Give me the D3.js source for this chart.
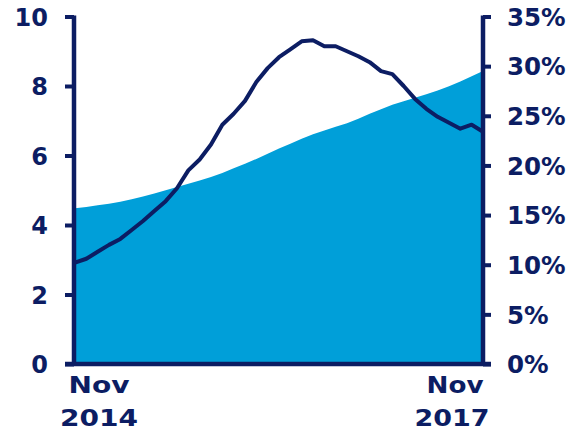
<!DOCTYPE html>
<html>
<head>
<meta charset="utf-8">
<script src="https://cdn.jsdelivr.net/npm/d3@7"></script>
<style>
  html, body { margin: 0; padding: 0; background: #fff; }
  svg text { font-family: "DejaVu Sans", Verdana, sans-serif; font-weight: bold; fill: #0c1d63; }
</style>
</head>
<body>
<svg id="chart" width="583" height="430"></svg>
<script>
// Monthly observations, Nov 2014 .. Nov 2017
const months = d3.range(37);
const xLabels = [["Nov", "2014"], ["Nov", "2017"]];

// Left axis series (area)
const areaValues = [4.48, 4.52, 4.57, 4.61, 4.67, 4.74, 4.82, 4.91, 5.00, 5.09,
  5.19, 5.28, 5.38, 5.50, 5.63, 5.76, 5.90, 6.05, 6.20, 6.34,
  6.48, 6.61, 6.72, 6.83, 6.93, 7.06, 7.20, 7.33, 7.46, 7.56,
  7.66, 7.76, 7.87, 7.99, 8.13, 8.28, 8.43];

// Right axis series (line, percent)
const lineValues = [10.2, 10.6, 11.3, 12.0, 12.6, 13.5, 14.4, 15.4, 16.4, 17.7,
  19.5, 20.6, 22.1, 24.1, 25.2, 26.5, 28.4, 29.8, 30.9, 31.7,
  32.5, 32.6, 32.0, 32.0, 31.5, 31.0, 30.4, 29.5, 29.2, 28.0,
  26.7, 25.7, 24.9, 24.3, 23.7, 24.1, 23.4];

const leftTicks = [0, 2, 4, 6, 8, 10];
const rightTicks = [0, 5, 10, 15, 20, 25, 30, 35];

const navy = "#0c1d63";
const blue = "#009fd9";

const svg = d3.select("#chart");
const x0 = 75, x1 = 483, yBottom = 364, yTop = 16.5;

const x = d3.scaleLinear().domain([0, months.length - 1]).range([x0, x1]);
const yL = d3.scaleLinear().domain([0, 10]).range([yBottom, yTop]);
const yR = d3.scaleLinear().domain([0, 35]).range([yBottom, yTop]);

// Area
svg.append("path")
  .datum(months)
  .attr("fill", blue)
  .attr("d", d3.area()
    .x(i => x(i))
    .y0(yL(0))
    .y1(i => yL(areaValues[i])));

// Line
svg.append("path")
  .datum(months)
  .attr("fill", "none")
  .attr("stroke", navy)
  .attr("stroke-width", 4)
  .attr("stroke-linejoin", "round")
  .attr("d", d3.line()
    .x(i => x(i))
    .y(i => yR(lineValues[i])));

// Left axis
const leftAxis = svg.append("g")
  .attr("transform", `translate(${x0 - 1},0)`)
  .call(d3.axisLeft(yL).tickValues(leftTicks).tickSize(9).tickPadding(17).tickFormat(d3.format("d")));
leftAxis.select(".domain").attr("stroke", navy).attr("stroke-width", 4.5).attr("d", `M0,${yBottom}V${yTop - 1}`);
leftAxis.selectAll(".tick line").attr("stroke", navy).attr("stroke-width", 4);
leftAxis.selectAll(".tick text").attr("font-size", 24).attr("dy", "0.36em").attr("fill", navy);

// Right axis
const rightAxis = svg.append("g")
  .attr("transform", `translate(${x1},0)`)
  .call(d3.axisRight(yR).tickValues(rightTicks).tickSize(8).tickPadding(16).tickFormat(d => d + "%"));
rightAxis.select(".domain").attr("stroke", navy).attr("stroke-width", 4.5).attr("d", `M0,${yBottom}V${yTop - 1}`);
rightAxis.selectAll(".tick line").attr("stroke", navy).attr("stroke-width", 4);
rightAxis.selectAll(".tick text").attr("font-size", 24.5).attr("dy", "0.36em").attr("fill", navy);

// Baseline
svg.append("line")
  .attr("x1", x0 - 10).attr("x2", x1 + 8)
  .attr("y1", yBottom).attr("y2", yBottom)
  .attr("stroke", navy).attr("stroke-width", 4.5);

// Category labels at first and last month (wide bold lettering)
const labelPos = [
  { cx: [x(0) + 24, x(0) + 24], len: [61, 78] },
  { cx: [x(36) - 28, x(36) - 31], len: [57, 75] }
];
labelPos.forEach((p, k) => {
  [393, 426].forEach((yy, r) => {
    svg.append("text")
      .attr("x", p.cx[r]).attr("y", yy)
      .attr("text-anchor", "middle")
      .attr("font-size", 23)
      .attr("textLength", p.len[r])
      .attr("lengthAdjust", "spacingAndGlyphs")
      .text(xLabels[k][r]);
  });
});
</script>
</body>
</html>
